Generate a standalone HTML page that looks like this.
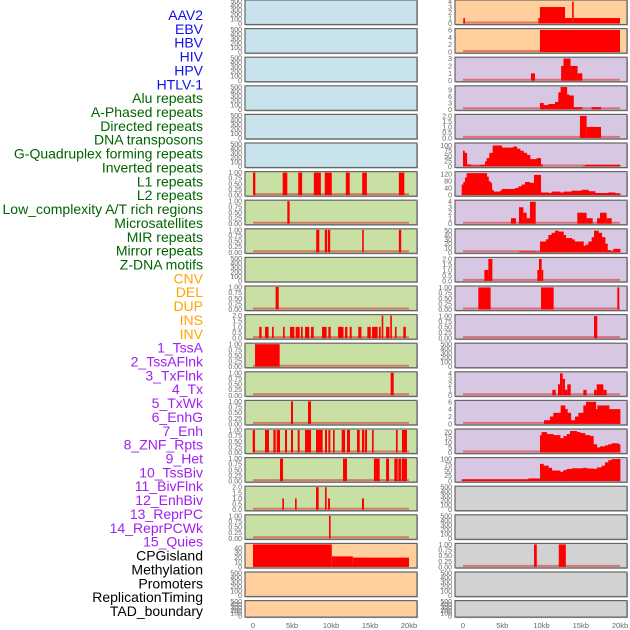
<!DOCTYPE html>
<html><head><meta charset="utf-8"><style>
html,body{margin:0;padding:0;background:#fff}
svg{display:block}
text{font-family:"Liberation Sans",sans-serif}
</style></head><body>
<svg id="c" width="630" height="630" viewBox="0 0 630 630" xmlns="http://www.w3.org/2000/svg"></svg>
<script>
const labelNames=["AAV2","EBV","HBV","HIV","HPV","HTLV-1","Alu repeats","A-Phased repeats","Directed repeats","DNA transposons","G-Quadruplex forming repeats","Inverted repeats","L1 repeats","L2 repeats","Low_complexity A/T rich regions","Microsatellites","MIR repeats","Mirror repeats","Z-DNA motifs","CNV","DEL","DUP","INS","INV","1_TssA","2_TssAFlnk","3_TxFlnk","4_Tx","5_TxWk","6_EnhG","7_Enh","8_ZNF_Rpts","9_Het","10_TssBiv","11_BivFlnk","12_EnhBiv","13_ReprPC","14_ReprPCWk","15_Quies","CPGisland","Methylation","Promoters","ReplicationTiming","TAD_boundary"];
const labelGroups=[0,0,0,0,0,0,1,1,1,1,1,1,1,1,1,1,1,1,1,2,2,2,2,2,3,3,3,3,3,3,3,3,3,3,3,3,3,3,3,4,4,4,4,4];
const xTickVals=[0,5,10,15,20];
const xTickLabels=["0","5kb","10kb","15kb","20kb"];
const T500=["0","100","200","300","400","500"];
const T1=["0.00","0.25","0.50","0.75","1.00"];
const T2=["0.0","0.5","1.0","1.5","2.0"];
// left column interval data (kb)
const L7_s=[0,3.8,5.8,7.8,9.2,11.9,14.0,18.7], L7_e=[0.3,4.4,6.3,8.7,10.1,12.4,14.6,19.4], L7_v=[1,1,1,1,1,1,1,1];
const L8_s=[4.4], L8_e=[4.7], L8_v=[1];
const L9_s=[8.1,9.2,9.6,14.0,18.7], L9_e=[8.5,9.5,9.9,14.2,19.0], L9_v=[1,1,1,1,1];
const L11_s=[2.9], L11_e=[3.3], L11_v=[1];
const L12_s=[0.8,1.54,2.44,3.85,4.74,5.47,6.15,6.67,7.44,8.85,9.66,10.9,11.8,12.4,13.5,14.66,15.26,16.15,16.5,17.06,17.6,18.2,19.27];
const L12_e=[1.1,2.0,2.65,4.06,5.3,5.98,6.37,7.22,7.78,9.44,9.96,11.6,12.1,12.65,13.9,15.1,15.98,16.37,16.7,17.5,17.8,18.4,19.6];
const L12_v=[1,1,1,1,1,1,1,1,1,1,1,1,1,1,1,1,1,1,2,1,2,1,1];
const L13_s=[0.26], L13_e=[3.42], L13_v=[1];
const L14_s=[17.65], L14_e=[18.04], L14_v=[1];
const L15_s=[4.87,7.05], L15_e=[5.13,7.44], L15_v=[1,1];
const L16_s=[-0.04,1.54,2.61,3.04,4.1,4.87,5.73,6.67,8.08,9.23,9.66,10.26,11.37,12.05,13.33,13.97,14.36,15.26,18.33,19.1];
const L16_e=[0.26,2.05,2.91,3.46,4.36,5.13,5.98,7.44,8.93,9.49,9.92,10.47,11.8,12.44,13.68,14.27,14.62,15.47,18.55,19.74];
const L16_v=[1,1,1,1,1,1,1,1,1,1,1,1,1,1,1,1,1,1,1,1];
const L17_s=[3.46,11.54,15.5,17.06,18.12,18.63,19.06], L17_e=[3.85,12.05,16.24,17.44,18.55,18.97,19.74], L17_v=[1,1,1,1,1,1,1];
const L18_s=[3.76,5.39,8.08,9.23,9.62,13.97], L18_e=[3.97,5.6,8.42,9.44,9.87,14.23], L18_v=[1,1,2,2,1,1];
const L19_s=[9.74], L19_e=[9.95], L19_v=[1];
const L20_s=[0,10.1,12.8], L20_e=[10.1,12.8,20], L20_v=[47,22,19.4];
// right column
const R1_s=[0.04,9.6,9.8,13.0,13.9,14.1], R1_e=[0.25,9.8,13.0,13.9,14.1,20], R1_v=[1,1,3,1,4,1];
const R2_s=[9.8], R2_e=[20], R2_v=[6];
const R3_s=[8.66,12.5,12.8,13.7,14.6], R3_e=[9.17,12.8,13.7,14.6,15.2], R3_v=[1,2,3,2,1];
const R4_edges=[9.81,10.23,10.87,11.72,12.14,12.44,13.21,13.5,14.06,15.16], R4_vals=[3,2,2.5,3.5,8,10.5,7,6.5,1];
const R4b_s=[16.39], R4b_e=[17.58], R4b_v=[1];
const R5_s=[14.9,15.75], R5_e=[15.75,17.58], R5_v=[2,1];
const R6_edges=[0,0.17,0.47,0.98,2.17,2.8,3.01,3.35,3.78,4.93,6.41,6.84,7.26,7.69,8.11,8.53,9.38,9.89,10.11], R6_vals=[75,65,10,5,8,25,40,65,100,90,95,85,75,65,55,35,40,10];
const R6b_edges=[15.24,15.54,20.0], R6b_vals=[3,8];
const R7_edges=[-0.17,0.04,0.25,0.47,3.01,3.23,3.44,3.65,3.86,4.71,4.93,6.62,7.05,7.47,7.9,8.45,9.04,9.89,10.87,11.29,12.36,12.78,13.84,15.12,15.97,16.81,17.66,18.51,19.36,20.0];
const R7_vals=[60,75,100,125,105,80,70,30,20,25,35,40,50,60,75,70,115,15,12,20,15,20,25,30,22,12,12,15,10];
const R8_s=[6.11,7.13,7.69,8.11,8.53,14.56,15.75,17.07,17.45,18.3], R8_e=[6.75,7.69,8.11,8.53,9.26,15.75,16.52,17.45,18.3,18.94], R8_v=[1,3,2,1,4,2,1,1,2,1];
const R9_edges=[7.18,9.17,9.81,10.57,10.87,11.29,11.72,12.14,12.78,13.08,13.84,14.18,15.33,15.63,15.97,16.39,16.69,17.24,17.66,18.09,18.39,18.81,19.15,20.0];
const R9_vals=[2,1,25,30,40,45,50,48,40,33,30,25,15,18,25,35,50,45,35,20,5,2,8];
const R10_s=[2.72,3.23,9.47,9.68,10.02], R10_e=[3.23,3.74,9.68,10.02,10.15], R10_v=[1,2,1,2,1];
const R11_s=[1.95,9.94,19.66], R11_e=[3.52,11.55,19.91], R11_v=[1,1,1];
const R12_s=[16.69], R12_e=[17.11], R12_v=[1];
const R14_s=[11.38,12.1,12.36,12.7,12.99,13.29,15.33,16.69,17.03,17.88], R14_e=[11.8,12.36,12.7,12.99,13.29,13.72,15.75,17.03,17.88,18.3], R14_v=[1,2,4,3,1,2,1,1,2,1];
const R15_edges=[10.32,11.08,11.51,12.44,12.99,13.29,13.72,14.27,14.69,15.33,15.67,16.9,17.11,18.6,20.0], R15_vals=[1,2,3,5,4,3,1,2,3,5,6,4,5,4];
const R16_edges=[9.81,10.02,10.66,11.51,12.36,12.78,13.21,13.63,14.48,14.9,15.54,16.18,16.6,17.03,17.45,18.09,18.51,18.94,19.79,20.0];
const R16_vals=[17,20,18,17,14,16,18,21,20,19,17,16,8,5,6,7,8,9,8];
const R17_edges=[-0.17,8.32,9.81,10.23,10.87,11.29,12.36,12.78,13.21,13.84,15.33,15.75,16.6,17.03,17.66,18.09,18.51,18.94,20.0];
const R17_vals=[8,12,78,70,60,48,42,50,55,58,60,57,55,62,70,85,95,100];
const R20_s=[9.05,12.2], R20_e=[9.4,13.1], R20_v=[1,1];

const BLUE="#c9e3ec",GREEN="#c8e0a4",PEACH="#ffd09e",LAV="#d7c7e3",GRAY="#d2d2d2";
const panels=[
 [0,0,BLUE,T500,500,null,"aav2"],[1,0,BLUE,T500,500,null,"ebv"],[2,0,BLUE,T500,500,null,"hbv"],[3,0,BLUE,T500,500,null,"hiv"],[4,0,BLUE,T500,500,null,"hpv"],[5,0,BLUE,T500,500,null,"htlv"],
 [6,0,GREEN,T1,1,[[L7_s,L7_e,L7_v]],"l7"],[7,0,GREEN,T1,1,[[L8_s,L8_e,L8_v]],"l8"],[8,0,GREEN,T1,1,[[L9_s,L9_e,L9_v]],"l9"],[9,0,GREEN,T500,500,null,"l10"],
 [10,0,GREEN,T1,1,[[L11_s,L11_e,L11_v]],"l11"],[11,0,GREEN,T2,2,[[L12_s,L12_e,L12_v]],"l12"],[12,0,GREEN,T1,1,[[L13_s,L13_e,L13_v]],"l13"],
 [13,0,GREEN,T1,1,[[L14_s,L14_e,L14_v]],"l14"],[14,0,GREEN,T1,1,[[L15_s,L15_e,L15_v]],"l15"],[15,0,GREEN,T1,1,[[L16_s,L16_e,L16_v]],"l16"],
 [16,0,GREEN,T1,1,[[L17_s,L17_e,L17_v]],"l17"],[17,0,GREEN,T2,2,[[L18_s,L18_e,L18_v]],"l18"],[18,0,GREEN,T1,1,[[L19_s,L19_e,L19_v]],"l19"],
 [19,0,PEACH,["0","10","20","30","40"],47,[[L20_s,L20_e,L20_v]],"l20"],[20,0,PEACH,T500,500,null,"l21"],[21,0,PEACH,T500,500,null,"l22"],
 [0,1,PEACH,["0","1","2","3","4"],4.1,[[R1_s,R1_e,R1_v]],"r1"],[1,1,PEACH,["0","2","4","6"],6.1,[[R2_s,R2_e,R2_v]],"r2"],
 [2,1,LAV,["0","1","2","3"],3.05,[[R3_s,R3_e,R3_v]],"r3"],[3,1,LAV,["0","3","6","9"],10.6,["E",R4_edges,R4_vals],"r4",[[R4b_s,R4b_e,R4b_v]]],
 [4,1,LAV,T2,2.05,[[R5_s,R5_e,R5_v]],"r5"],[5,1,LAV,["0","25","50","75","100"],107,["E",R6_edges,R6_vals],"r6",null,["E",R6b_edges,R6b_vals]],
 [6,1,LAV,["0","40","80","120"],128,["E",R7_edges,R7_vals],"r7"],[7,1,LAV,["0","1","2","3","4"],4.1,[[R8_s,R8_e,R8_v]],"r8"],
 [8,1,LAV,["0","10","20","30","40","50"],52,["E",R9_edges,R9_vals],"r9"],[9,1,LAV,T2,2.05,[[R10_s,R10_e,R10_v]],"r10"],
 [10,1,LAV,T1,1.02,[[R11_s,R11_e,R11_v]],"r11"],[11,1,LAV,T1,1.02,[[R12_s,R12_e,R12_v]],"r12"],[12,1,LAV,T500,500,null,"r13"],
 [13,1,LAV,["0","1","2","3","4"],4.1,[[R14_s,R14_e,R14_v]],"r14"],[14,1,LAV,["0","2","4","6"],6.1,["E",R15_edges,R15_vals],"r15"],
 [15,1,LAV,["0","5","10","15","20"],22,["E",R16_edges,R16_vals],"r16"],[16,1,LAV,["0","25","50","75","100"],102,["E",R17_edges,R17_vals],"r17"],
 [17,1,GRAY,T500,500,null,"r18"],[18,1,GRAY,T500,500,null,"r19"],[19,1,GRAY,T1,1,[[R20_s,R20_e,R20_v]],"r20"],[20,1,GRAY,T500,500,null,"r21"],[21,1,GRAY,T500,500,null,"r22"]
];
const NS="http://www.w3.org/2000/svg";
const svg=document.getElementById("c");
function mk(tag,attrs,parent){const e=document.createElementNS(NS,tag);for(const k in attrs)e.setAttribute(k,attrs[k]);(parent||svg).appendChild(e);return e;}
const colX=[245,455], PW=172, kb0=[253,463], kbScale=[7.8,7.85];
function xs(col,kb){return kb0[col]+kb*kbScale[col];}
const groupColors=["#1010e8","#006400","#ffa500","#a020f0","#000000"];
labelNames.forEach((n,i)=>{
  const t=mk("text",{x:203,y:15+i*13.86+5,"text-anchor":"end","font-size":"14",fill:groupColors[labelGroups[i]]});
  
  
  t.textContent=n;
});
panels.forEach(p=>{
  const [row,col,bg,ticks,max,data,name,extra,extra2]=p;
  const top=row*28.6, h=row===21?16.5:24.5, x=colX[col];
  const g=mk("g",{});
  
  
  mk("rect",{x:x+1,y:top+1,width:PW,height:h,fill:"#aaa"},g);
  mk("rect",{x:x,y:top,width:PW,height:h,fill:bg,stroke:"#666","stroke-width":"1.2"},g);
  const y0=top+h-1, yTop=top+1;
  const ys=v=>y0-(Math.min(v,max)/max)*(y0-yTop);
  const tmax=parseFloat(ticks[ticks.length-1]);
  const scaleMax=data?max:tmax;
  ticks.forEach(tl=>{
    const v=parseFloat(tl);
    const yy=y0-(v/scaleMax)*(y0-yTop);
    const t=mk("text",{x:x-3,y:yy+2.5,"text-anchor":"end","font-size":"7",fill:"#666"},g);
    
    
    t.textContent=tl;
  });
  if(!data) return;
  mk("line",{x1:xs(col,0),x2:xs(col,20),y1:y0-1,y2:y0-1,stroke:"rgba(220,40,40,0.55)","stroke-width":"2"},g);
  const drawSteps=(d)=>{
    if(d[0]==="E"){const ed=d[1],vs=d[2];
      for(let i=0;i<vs.length;i++){const r=mk("rect",{x:xs(col,ed[i]),y:ys(vs[i]),width:Math.max(0.8,xs(col,ed[i+1])-xs(col,ed[i])+0.4),height:y0-ys(vs[i]),fill:"#ff0000"},g);
        
        }
    } else d.forEach(([s,e,v])=>{for(let i=0;i<s.length;i++){
        const r=mk("rect",{x:xs(col,s[i]),y:ys(v[i]),width:Math.max(1.6,xs(col,e[i])-xs(col,s[i])),height:y0-ys(v[i]),fill:"#ff0000"},g);
        
        }});
  };
  drawSteps(data); if(extra) drawSteps(extra); if(extra2) drawSteps(extra2);
});
[0,1].forEach(col=>{
  xTickVals.forEach((v,i)=>{
    const t=mk("text",{x:xs(col,v),y:628,"text-anchor":"middle","font-size":"7.5",fill:"#666"});
    
    
    t.textContent=xTickLabels[i];
  });
});
</script>
</body></html>
